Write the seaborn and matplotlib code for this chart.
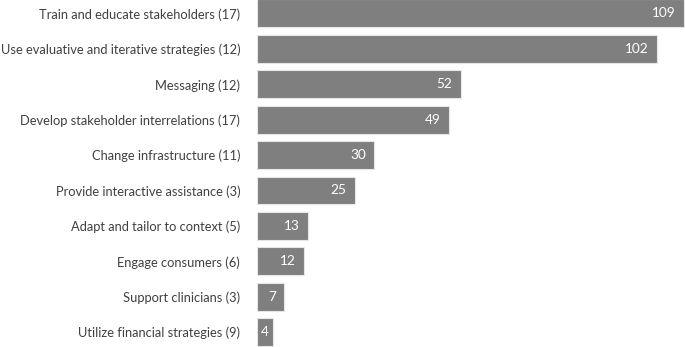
import matplotlib
matplotlib.use("Agg")
import matplotlib.pyplot as plt
import seaborn as sns
import pandas as pd

categories = [
    "Train and educate stakeholders (17)",
    "Use evaluative and iterative strategies (12)",
    "Messaging (12)",
    "Develop stakeholder interrelations (17)",
    "Change infrastructure (11)",
    "Provide interactive assistance (3)",
    "Adapt and tailor to context (5)",
    "Engage consumers (6)",
    "Support clinicians (3)",
    "Utilize financial strategies (9)",
]
values = [109, 102, 52, 49, 30, 25, 13, 12, 7, 4]

df = pd.DataFrame({"category": categories, "value": values})

sns.set_theme(style="white")
plt.rcParams["font.family"] = ["Lato", "DejaVu Sans"]

fig = plt.figure(figsize=(6.85, 3.47), dpi=100)
ax = fig.add_axes([0.375, 0.0, 0.625, 1.0])
sns.barplot(data=df, x="value", y="category", orient="h", color="#7f7f7f",
            saturation=1, width=0.79, edgecolor="#e6e6e6", linewidth=0.8, ax=ax)

ax.set_xlim(0, 109.2)
ax.set_ylim(9.42, -0.38)
ax.set_xlabel("")
ax.set_ylabel("")
ax.set_xticks([])
for s in ax.spines.values():
    s.set_visible(False)
ax.tick_params(axis="y", length=0, pad=12, labelsize=9.3, labelcolor="#404040")

for i, v in enumerate(values):
    if v < 6:
        ax.annotate(str(v), xy=(0, i), xytext=(3, 0), textcoords="offset points",
                    ha="left", va="center", color="white", fontsize=9.8)
    else:
        ax.annotate(str(v), xy=(v, i), xytext=(-6, 0), textcoords="offset points",
                    ha="right", va="center", color="white", fontsize=9.8)

fig.savefig("out.png", dpi=100)
